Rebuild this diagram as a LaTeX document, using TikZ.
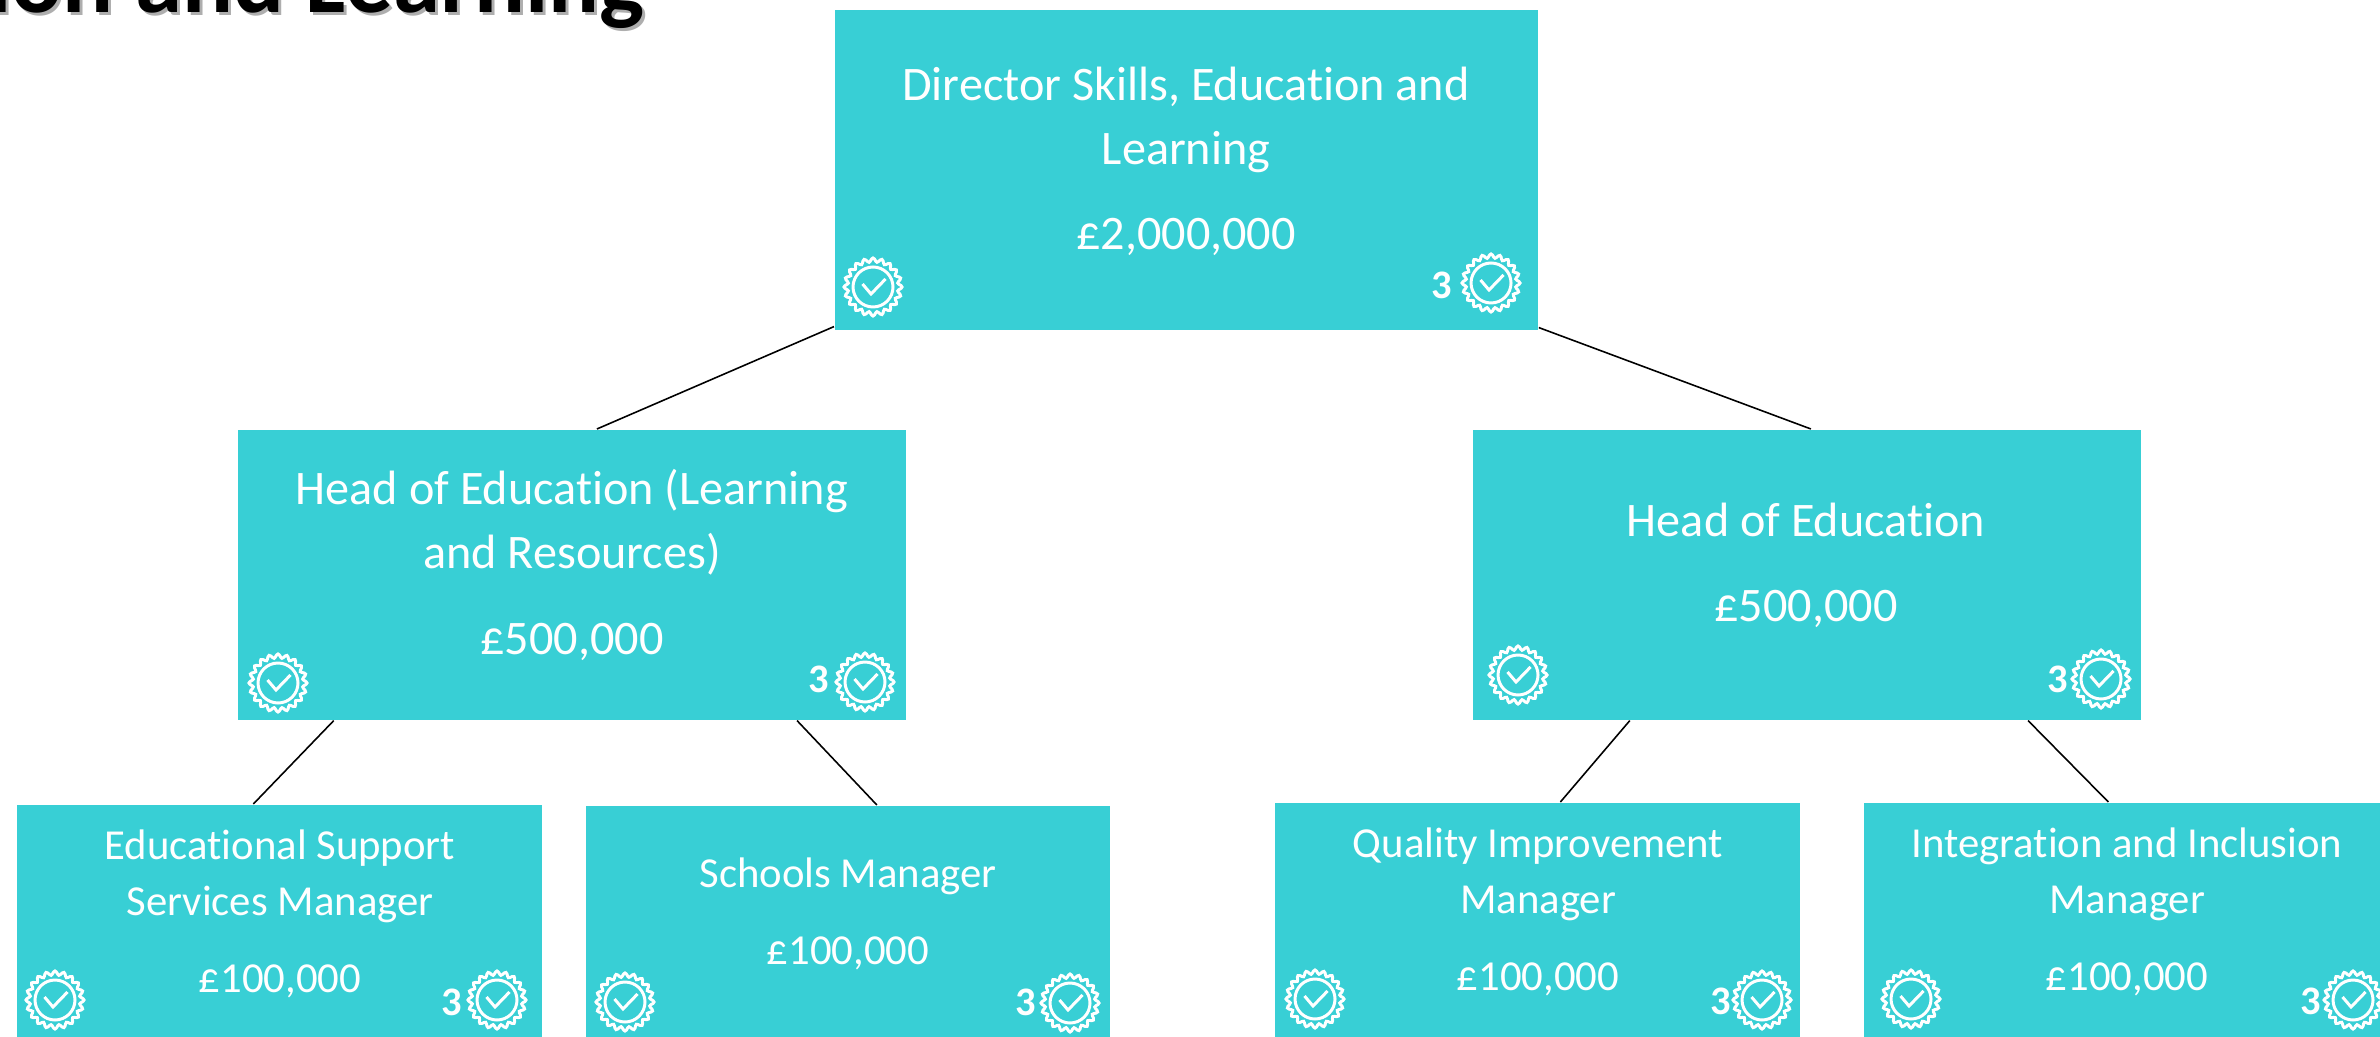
\documentclass[tikz,border=0pt]{standalone}
\usepackage{xcolor}
\usepackage{fontspec}
\setmainfont[Ligatures=NoCommon]{Carlito}
\usetikzlibrary{calc}

\definecolor{boxteal}{HTML}{38CFD5}

\tikzset{
  orgbox/.style = {fill = boxteal, inner sep = 0pt, anchor = north west},
  biglabel/.style = {text = white, align = center, font = \fontsize{13.7}{18.2}\selectfont},
  smalllabel/.style = {text = white, align = center, font = \fontsize{12.15}{16}\selectfont},
  countlabel/.style = {text = white, inner sep = 0pt, font = \fontsize{11.5}{12}\selectfont\bfseries},
  titlelabel/.style = {anchor = base east, inner sep = 0pt, font = \fontsize{27}{30}\selectfont\bfseries},
  orgline/.style = {black, line width = 0.45pt},
  badge/.pic = {
    \draw[white, line width = 0.85pt]
      plot[domain = 0:360, samples = 121, smooth] (\x:{27 + 2*cos(20*\x)}) -- cycle;
    \draw[white, line width = 0.85pt] (0,0) circle (20);
    \draw[white, line width = 0.85pt] (-10.5,-3) -- (-2,7) -- (12.5,-8);
  }
}

\begin{document}
\begin{tikzpicture}[x = 0.01cm, y = -0.01cm]

\useasboundingbox (0,0) rectangle (2380,1037);
\clip (0,0) rectangle (2380,1037);

% heading, cut by the page
\node[titlelabel, text = black!45, opacity = 0.7] (TitleShadow) at (648,16) {ion and Learning};
\node[titlelabel] (Title) at (645,13) {ion and Learning};

% boxes
\node[orgbox, minimum width = 7.03cm, minimum height = 3.20cm] (Dir) at (834,9) {};
\node[orgbox, minimum width = 6.68cm, minimum height = 2.90cm] (HeadL) at (237,429) {};
\node[orgbox, minimum width = 6.68cm, minimum height = 2.90cm] (HeadR) at (1472,429) {};
\node[orgbox, minimum width = 5.25cm, minimum height = 2.40cm] (EduMgr) at (16,804) {};
\node[orgbox, minimum width = 5.24cm, minimum height = 2.40cm] (SchMgr) at (585,805) {};
\node[orgbox, minimum width = 5.25cm, minimum height = 2.40cm] (QualMgr) at (1274,802) {};
\node[orgbox, minimum width = 5.25cm, minimum height = 2.40cm] (InclMgr) at (1863,802) {};

% labels
\node[biglabel] (DirText) at (1186,161) {Director Skills, Education and\\Learning\\[6pt]£2,000,000};
\node[biglabel] (HeadLText) at (572,565) {Head of Education (Learning\\and Resources)\\[6pt]£500,000};
\node[biglabel] (HeadRText) at (1806,565) {Head of Education\\[6pt]£500,000};
\node[smalllabel] (EduText) at (280,914) {Educational Support\\Services Manager\\[6pt]£100,000};
\node[smalllabel] (SchText) at (848,914) {Schools Manager\\[6pt]£100,000};
\node[smalllabel] (QualText) at (1538,912) {Quality Improvement\\Manager\\[6pt]£100,000};
\node[smalllabel] (InclText) at (2127,912) {Integration and Inclusion\\Manager\\[6pt]£100,000};

% connectors
\draw[orgline] ([yshift = 0.04cm]Dir.south west) to ([xshift = 0.25cm]HeadL.north);
\draw[orgline] ([yshift = 0.03cm]Dir.south east) to ([xshift = 0.04cm]HeadR.north);
\draw[orgline] ([xshift = -2.38cm]HeadL.south) to ([xshift = -0.26cm]EduMgr.north);
\draw[orgline] ([xshift = 2.25cm]HeadL.south) to ([xshift = 0.29cm]SchMgr.north);
\draw[orgline] ([xshift = -1.77cm]HeadR.south) to ([xshift = 0.23cm]QualMgr.north);
\draw[orgline] ([xshift = 2.21cm]HeadR.south) to ([xshift = -0.18cm]InclMgr.north);

% badges
\foreach \bx/\by in {873/287, 1491/283, 278/683, 865/682, 1518/675, 2101/679,
                     55/1000, 497/1000, 625/1002, 1070/1003,
                     1315/999, 1762/1000, 1911/999, 2353/1000}
  \pic at (\bx,\by) {badge};

% counts
\node[countlabel] (CountDir) at (1442,285) {3};
\node[countlabel] (CountHeadL) at (819,679) {3};
\node[countlabel] (CountHeadR) at (2058,679) {3};
\node[countlabel] (CountEdu) at (452,1002) {3};
\node[countlabel] (CountSch) at (1026,1002) {3};
\node[countlabel] (CountQual) at (1721,1001) {3};
\node[countlabel] (CountIncl) at (2311,1001) {3};

\end{tikzpicture}
\end{document}
